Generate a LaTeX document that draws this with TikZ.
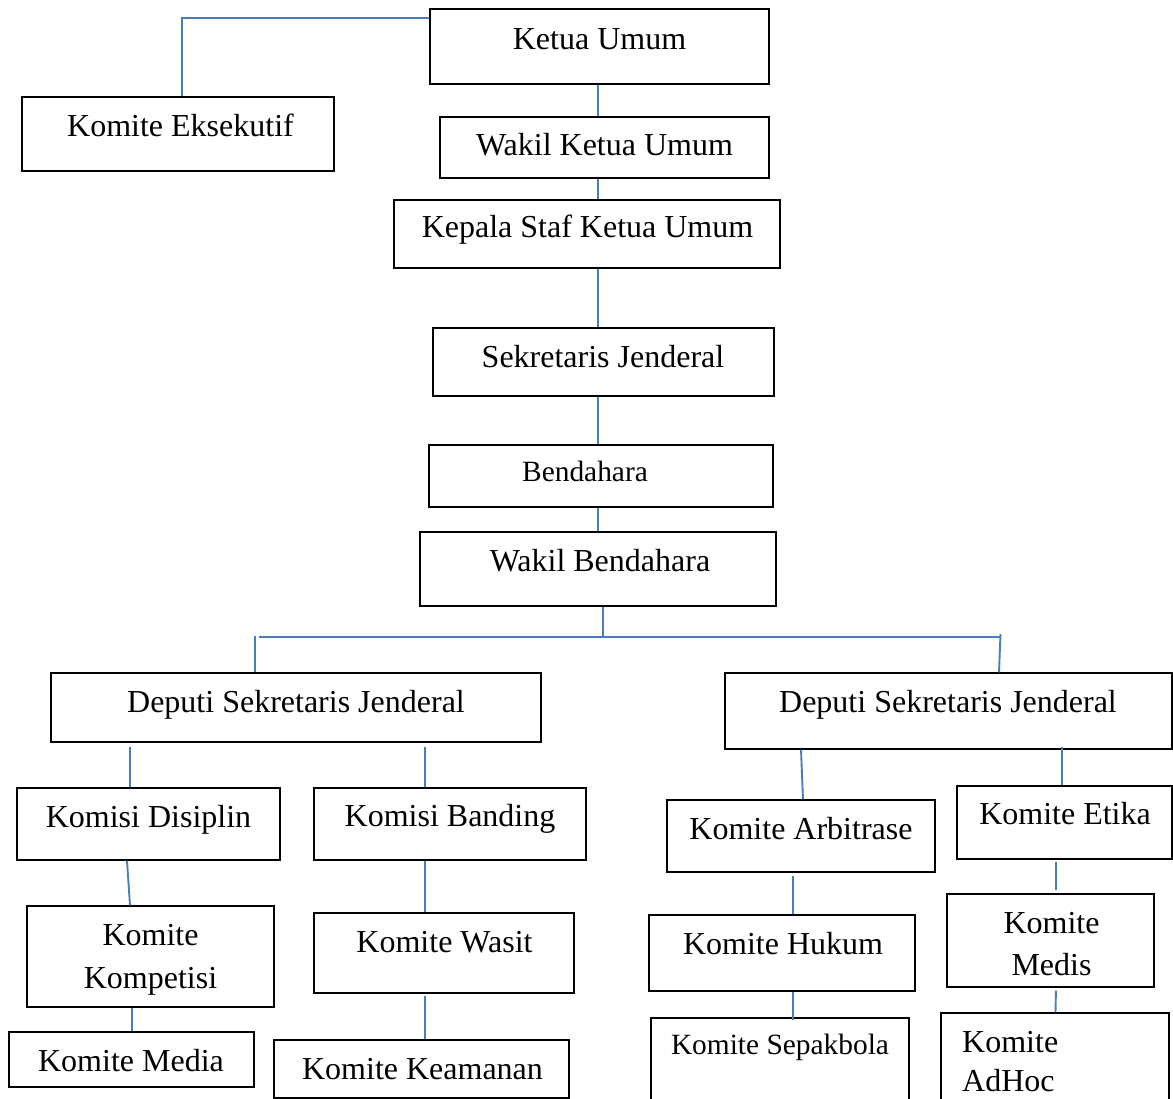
\documentclass[tikz,border=0pt]{standalone}
\usepackage{fontspec}
\setmainfont{Liberation Serif}
\usetikzlibrary{fit}
\definecolor{connblue}{HTML}{4A7EBB}
\tikzset{
  bx/.style={draw=black, line width=1.4pt, inner sep=0pt, fill=none},
  bxthick/.style={bx, line width=2.3pt},
  txt/.style={inner sep=0pt, anchor=base, font=\fontsize{32}{43}\selectfont},
  txtsmall/.style={txt, font=\fontsize{29.4}{40}\selectfont},
  conn/.style={draw=connblue, line width=1.9pt}
}
\begin{document}
\begin{tikzpicture}[x=1pt,y=-1pt]
\useasboundingbox (0,0) rectangle (1173,1099);
\clip (0,0) rectangle (1173,1099);
\fill[white] (0,0) rectangle (1173,1099);

% boxes
\node[bx, fit={(430,9) (769,84)}] (ku) {};
\node[bx, fit={(22,97) (334,171)}] (ke) {};
\node[bx, fit={(440,117) (769,178)}] (wku) {};
\node[bx, fit={(394,200) (780,268)}] (kp) {};
\node[bx, fit={(433,328) (774,396)}] (sj) {};
\node[bxthick, fit={(429,445) (773,507)}] (bd) {};
\node[bxthick, fit={(420,532) (776,606)}] (wb) {};
\node[bx, fit={(51,673) (541,742)}] (dl) {};
\node[bx, fit={(725,673) (1172,749)}] (dr) {};
\node[bx, fit={(17,788) (280,860)}] (kd) {};
\node[bx, fit={(314,788) (586,860)}] (kb) {};
\node[bx, fit={(27,906) (274,1007)}] (kk) {};
\node[bx, fit={(9,1032) (254,1087)}] (km) {};
\node[bx, fit={(314,913) (574,993)}] (kw) {};
\node[bx, fit={(274,1040) (569,1098)}] (kam) {};
\node[bx, fit={(667,800) (935,872)}] (ka) {};
\node[bx, fit={(957,786) (1172,859)}] (et) {};
\node[bx, fit={(649,915) (915,991)}] (kh) {};
\node[bx, fit={(651,1018) (909,1130)}] (ks) {};
\node[bx, fit={(947,894) (1154,987)}] (md) {};
\node[bx, fit={(941,1013) (1169,1130)}] (ah) {};

% texts
\node[txt] (t-ku) at (599.5,50) {Ketua Umum};
\node[txt] (t-ke) at (180.5,137) {Komite Eksekutif};
\node[txt] (t-wku) at (604.5,156) {Wakil Ketua Umum};
\node[txt] (t-kp) at (587.5,238) {Kepala Staf Ketua Umum};
\node[txt] (t-sj) at (603,367) {Sekretaris Jenderal};
\node[txtsmall] (t-bd) at (585,481) {Bendahara};
\node[txt] (t-wb) at (600,571) {Wakil Bendahara};
\node[txt] (t-dl) at (296,712) {Deputi Sekretaris Jenderal};
\node[txt] (t-dr) at (948,712) {Deputi Sekretaris Jenderal};
\node[txt] (t-kd) at (148.5,827) {Komisi Disiplin};
\node[txt] (t-kb) at (450,826) {Komisi Banding};
\node[txt] (t-kk) at (150.5,945) {\begin{tabular}[t]{@{}c@{}}Komite\\Kompetisi\end{tabular}};
\node[txt] (t-km) at (131,1071) {Komite Media};
\node[txt] (t-kw) at (444.5,952) {Komite Wasit};
\node[txt] (t-kam) at (422.5,1079) {Komite Keamanan};
\node[txt] (t-ka) at (801,839) {Komite Arbitrase};
\node[txt] (t-et) at (1065,824) {Komite Etika};
\node[txt] (t-kh) at (783,954) {Komite Hukum};
\node[txtsmall] (t-ks) at (780,1054) {Komite Sepakbola};
\node[txt, font=\fontsize{32}{42}\selectfont] (t-md) at (1051.5,933) {\begin{tabular}[t]{@{}c@{}}Komite\\Medis\end{tabular}};
\node[txt, anchor=base west, font=\fontsize{32}{39}\selectfont] (t-ah) at (962,1052) {\begin{tabular}[t]{@{}l@{}}Komite\\AdHoc\end{tabular}};

% connectors
\draw[conn] ([yshift=-10pt]ku.north west) -| ([xshift=4pt]ke.north);
\draw[conn] ([xshift=-1.5pt]ku.south) -- ([xshift=-6.5pt]wku.north);
\draw[conn] ([xshift=-6.5pt]wku.south) -- ([xshift=11pt]kp.north);
\draw[conn] ([xshift=11pt]kp.south) -- ([xshift=-5.5pt]sj.north);
\draw[conn] ([xshift=-5.5pt]sj.south) -- ([xshift=-3pt]bd.north);
\draw[conn] ([xshift=-3pt]bd.south) -- (wb.north);
\coordinate (bus) at (602.7,637);
\coordinate (busL) at (255,637);
\coordinate (busR) at (1000.5,637);
\draw[conn] ([xshift=4.7pt]wb.south) -- (bus);
\draw[conn] ([xshift=4pt]busL) -- (busR);
\draw[conn] ([yshift=1.5pt]busL) -- ([xshift=-41pt]dl.north);
\draw[conn] ([yshift=3pt]busR) -- ([xshift=50.5pt]dr.north);
\draw[conn, shorten <=4pt] ([xshift=-166pt]dl.south) -- ([xshift=-18.5pt]kd.north);
\draw[conn, shorten <=4pt] ([xshift=129pt]dl.south) -- ([xshift=-25pt]kb.north);
\draw[conn] ([xshift=-21.5pt]kd.south) -- ([xshift=-20.5pt]kk.north);
\draw[conn] ([xshift=-18.5pt]kk.south) -- ([xshift=0.5pt]km.north);
\draw[conn] ([xshift=-25pt]kb.south) -- ([xshift=-19pt]kw.north);
\draw[conn, shorten <=2pt] ([xshift=-19pt]kw.south) -- ([xshift=3.5pt]kam.north);
\draw[conn] ([xshift=-147.5pt]dr.south) -- ([xshift=2pt]ka.north);
\draw[conn, shorten <=-3pt] ([xshift=113.5pt]dr.south) -- ([xshift=-2.5pt]et.north);
\draw[conn, shorten <=3pt] ([xshift=-8pt]ka.south) -- ([xshift=11pt]kh.north);
\draw[conn, shorten >=-3pt] ([xshift=11pt]kh.south) -- ([xshift=13pt]ks.north);
\draw[conn, shorten <=2pt, shorten >=3pt] ([xshift=-8.5pt]et.south) -- ([xshift=5.5pt]md.north);
\draw[conn, shorten <=3pt] ([xshift=5.5pt]md.south) -- ([xshift=0.5pt]ah.north);
\end{tikzpicture}
\end{document}
